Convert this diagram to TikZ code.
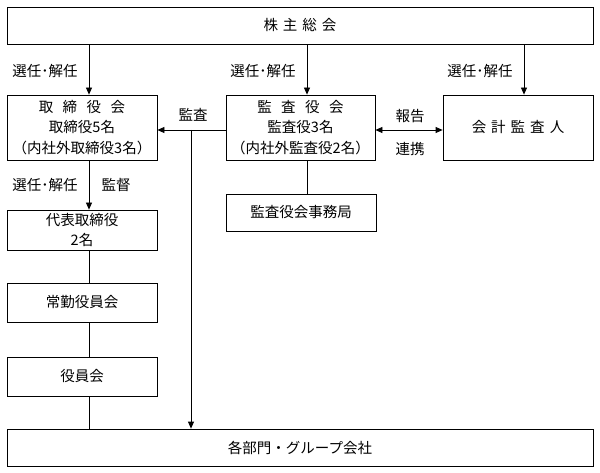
\documentclass[tikz,border=0pt]{standalone}
\usepackage{fontspec}
\setmainfont{Noto Sans CJK JP}
\usepackage{tikz}
\usetikzlibrary{positioning}
\usetikzlibrary{calc}
\usetikzlibrary{arrows.meta}
\tikzset{every picture/.style={line width=0.8pt},
  box/.style={draw,align=center,inner sep=0pt,font=\fontsize{14.5}{20.5}\selectfont},
  lbl/.style={inner sep=0pt,font=\fontsize{14.5}{16}\selectfont},
  arr/.style={-{Triangle[length=7pt,width=6pt]}}}

\begin{document}
\begin{tikzpicture}[x=1pt,y=-1pt]
\useasboundingbox (0,0) rectangle (600,473);

\node (soukai) at (300,25.5) [box,minimum width=586pt,minimum height=37pt] {株\kern5pt 主\kern5pt 総\kern5pt 会};
\node (torishimari) at (82,127.5) [box,minimum width=150pt,minimum height=65pt] {取\kern9.5pt 締\kern9.5pt 役\kern9.5pt 会\\取締役5名\\（内社外取締役3名）};
\node (kansa) at (300.5,127.5) [box,minimum width=149pt,minimum height=65pt] {監\kern9.5pt 査\kern9.5pt 役\kern9.5pt 会\\監査役3名\\（内社外監査役2名）};
\node (kaikei) at (518,127.5) [box,minimum width=150pt,minimum height=65pt] {会\kern5pt 計\kern5pt 監\kern5pt 査\kern5pt 人};
\node (jimukyoku) at (301,212.5) [box,minimum width=150pt,minimum height=37pt] {監査役会事務局};
\node (daihyo) at (82,230) [box,minimum width=150pt,minimum height=40pt] {代表取締役\\2名};
\node (jokin) at (82,302.5) [box,minimum width=150pt,minimum height=39pt] {常勤役員会};
\node (yakuin) at (82,376.5) [box,minimum width=150pt,minimum height=39pt] {役員会};
\node (bumon) at (300,447.5) [box,minimum width=586pt,minimum height=37pt] {各部門・グループ会社};

% connector columns
\coordinate (c1) at (89,0);
\coordinate (c2) at (307,0);
\coordinate (c3) at (524,0);
\coordinate (m) at (191,130);

\draw [arr] (soukai.south -| c1) -- (torishimari.north -| c1);
\draw [arr] (soukai.south -| c2) -- (kansa.north -| c2);
\draw [arr] (soukai.south -| c3) -- (kaikei.north -| c3);
\node (sn1) at (45,71) [lbl] {選任･解任};
\node (sn2) at (263,71) [lbl] {選任･解任};
\node (sn3) at (480,71) [lbl] {選任･解任};

\draw [arr] (kansa.west |- m) -- (torishimari.east |- m);
\draw [arr] (m) -- (bumon.north -| m);
\node (ks) at (193,115) [lbl] {監査};
\draw [{Triangle[length=7pt,width=6pt]}-{Triangle[length=7pt,width=6pt]}] (kansa.east |- m) -- (kaikei.west |- m);
\node (hk) at (410,116) [lbl] {報告};
\node (rk) at (410,149) [lbl] {連携};

\draw (kansa.south -| c2) -- (jimukyoku.north -| c2);

\draw [arr] (torishimari.south -| c1) -- (daihyo.north -| c1);
\node (sn4) at (45,185) [lbl] {選任･解任};
\node (kt) at (116,185) [lbl] {監督};
\draw (daihyo.south -| c1) -- (jokin.north -| c1);
\draw (jokin.south -| c1) -- (yakuin.north -| c1);
\draw (yakuin.south -| c1) -- (bumon.north -| c1);

\end{tikzpicture}
\end{document}
